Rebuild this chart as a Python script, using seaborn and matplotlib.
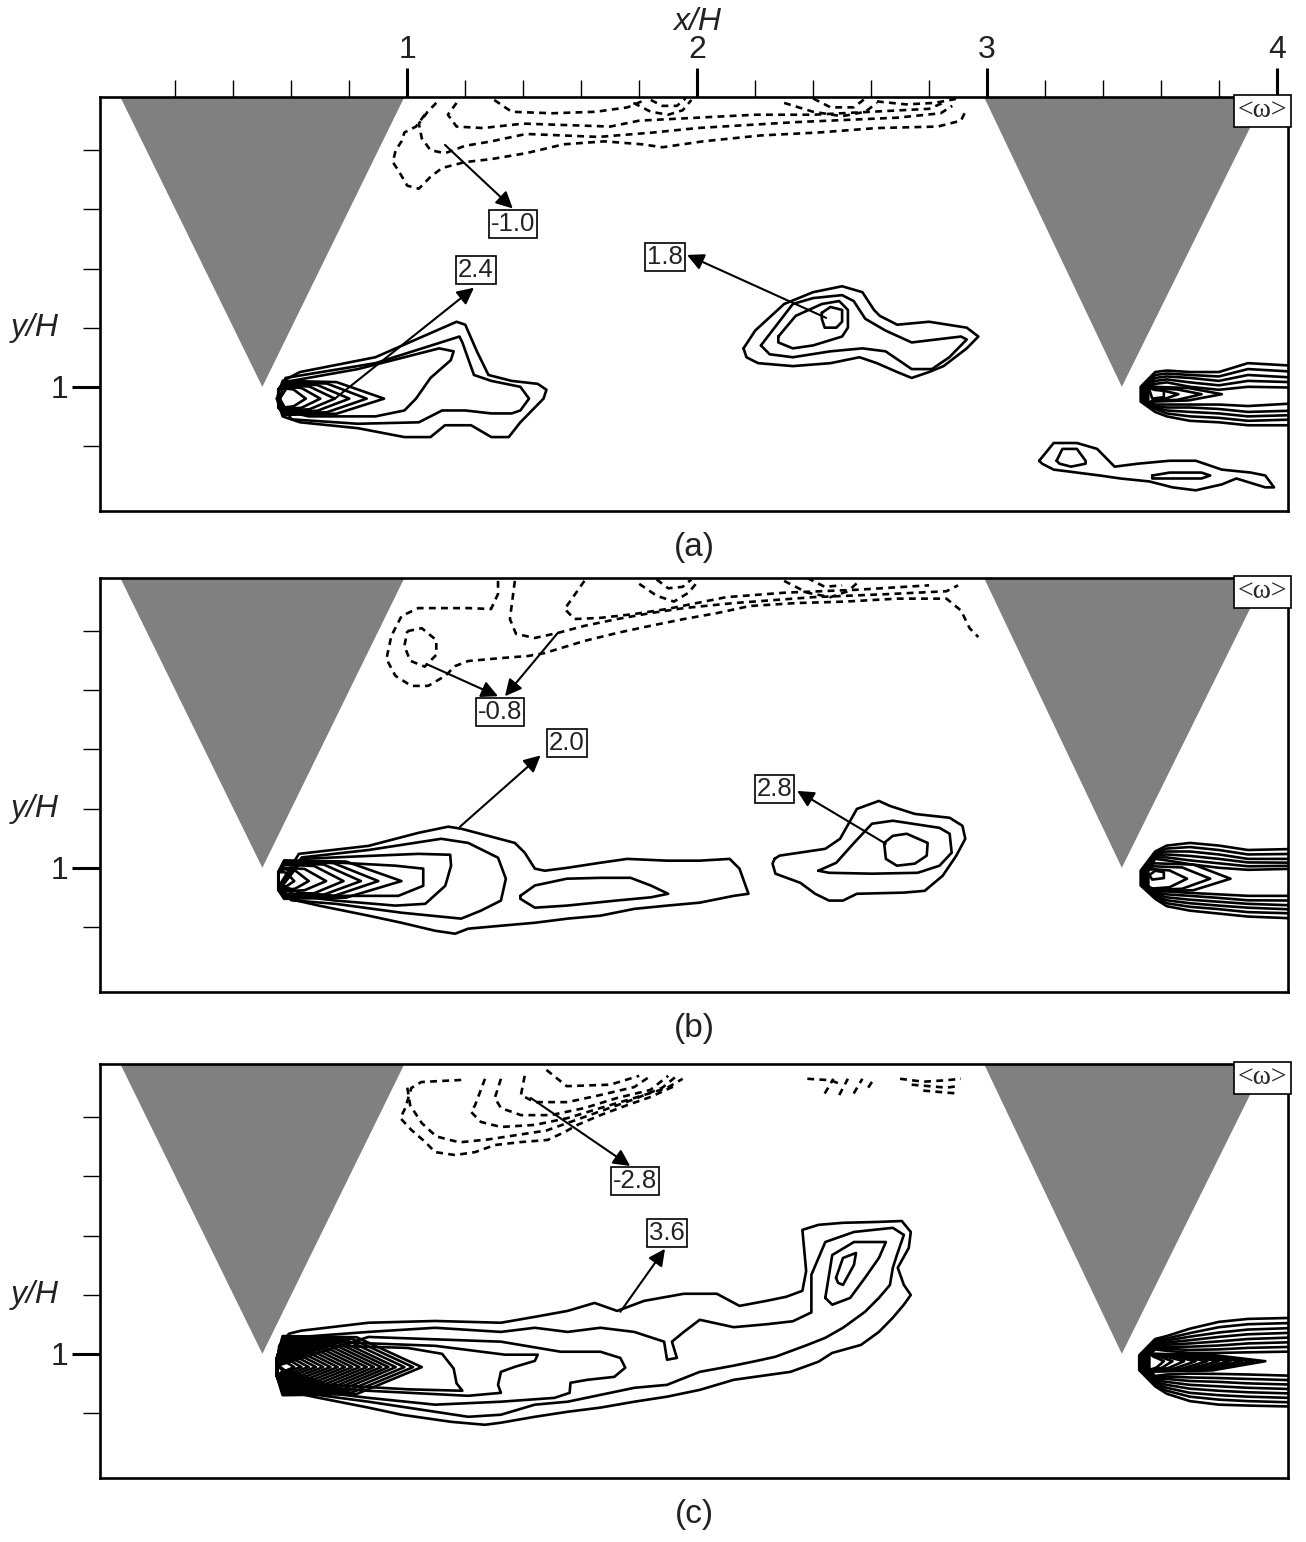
import matplotlib
matplotlib.use("Agg")
import matplotlib.pyplot as plt
import pandas as pd
import seaborn as sns

# axis layout (x/H, y/H)
x_major = [1, 2, 3, 4]
x_minor = [0.2, 0.4, 0.6, 0.8, 1.2, 1.4, 1.6, 1.8, 2.2, 2.4, 2.6, 2.8, 3.2, 3.4, 3.6, 3.8]
y_major = [1]
y_minor = [0.8, 1.2, 1.4, 1.6, 1.8]
x_range = (-0.06, 4.04)
y_range = (0.58, 1.98)

# triangular ribs hanging from the top wall
ribs = [[(0.0, 2.0), (1.0, 2.0), (0.5, 1.0)],
        [(2.98, 2.0), (3.97, 2.0), (3.465, 1.0)]]

# stations used for the wake lines that leave through the right edge
wake_x = [4.08, 3.90, 3.80, 3.70, 3.62, 3.58]

# ---------------- panel (a) ----------------
a_pos = [
    [(0.55, 0.96), (0.57, 1.02), (0.63, 1.05), (0.89, 1.10), (1.17, 1.22), (1.20, 1.21), (1.24, 1.12),
     (1.28, 1.04), (1.36, 1.02), (1.45, 1.01), (1.48, 0.99), (1.47, 0.96), (1.43, 0.92), (1.39, 0.88),
     (1.35, 0.83), (1.29, 0.83), (1.22, 0.87), (1.13, 0.87), (1.08, 0.83), (0.99, 0.83), (0.83, 0.86),
     (0.63, 0.88), (0.57, 0.90), (0.55, 0.96)],
    [(0.56, 0.96), (0.58, 1.03), (0.89, 1.08), (1.18, 1.17), (1.19, 1.15), (1.23, 1.04), (1.29, 1.02),
     (1.39, 1.00), (1.42, 0.96), (1.39, 0.92), (1.36, 0.91), (1.29, 0.91), (1.20, 0.92), (1.12, 0.92),
     (1.04, 0.88), (0.83, 0.875), (0.60, 0.89), (0.56, 0.96)],
    [(0.56, 0.96), (0.60, 1.02), (0.83, 1.06), (1.11, 1.13), (1.16, 1.12), (1.15, 1.09), (1.08, 1.03),
     (1.03, 0.96), (0.99, 0.92), (0.89, 0.90), (0.66, 0.90), (0.57, 0.92), (0.56, 0.96)],
    [(2.16, 1.13), (2.20, 1.19), (2.30, 1.28), (2.40, 1.32), (2.50, 1.34), (2.57, 1.32), (2.61, 1.26),
     (2.63, 1.24), (2.69, 1.21), (2.80, 1.22), (2.93, 1.20), (2.97, 1.17), (2.93, 1.13), (2.85, 1.07),
     (2.80, 1.05), (2.74, 1.03), (2.69, 1.05), (2.62, 1.08), (2.56, 1.10), (2.46, 1.08), (2.33, 1.07),
     (2.21, 1.08), (2.17, 1.10), (2.16, 1.13)],
    [(2.22, 1.14), (2.33, 1.28), (2.40, 1.30), (2.50, 1.31), (2.54, 1.29), (2.58, 1.23), (2.65, 1.19),
     (2.74, 1.15), (2.91, 1.17), (2.93, 1.16), (2.87, 1.10), (2.81, 1.06), (2.74, 1.06), (2.65, 1.12),
     (2.57, 1.13), (2.46, 1.12), (2.33, 1.10), (2.25, 1.11), (2.22, 1.14)],
    [(2.28, 1.17), (2.34, 1.24), (2.43, 1.28), (2.49, 1.29), (2.52, 1.26), (2.52, 1.20), (2.50, 1.17),
     (2.40, 1.14), (2.33, 1.13), (2.28, 1.15), (2.28, 1.17)],
    [(2.43, 1.25), (2.46, 1.27), (2.50, 1.26), (2.50, 1.22), (2.48, 1.20), (2.44, 1.20), (2.43, 1.23),
     (2.43, 1.25)],
    [(3.18, 0.75), (3.23, 0.81), (3.31, 0.81), (3.38, 0.79), (3.42, 0.75), (3.44, 0.73), (3.52, 0.74),
     (3.63, 0.75), (3.72, 0.75), (3.81, 0.72), (3.91, 0.71), (3.96, 0.70), (3.99, 0.66), (3.96, 0.66),
     (3.86, 0.69), (3.81, 0.67), (3.72, 0.65), (3.64, 0.66), (3.56, 0.68), (3.46, 0.69), (3.39, 0.70),
     (3.31, 0.71), (3.23, 0.72), (3.19, 0.74), (3.18, 0.75)],
    [(3.24, 0.75), (3.26, 0.79), (3.31, 0.79), (3.34, 0.75), (3.34, 0.74), (3.29, 0.73), (3.25, 0.74),
     (3.24, 0.75)],
    [(3.57, 0.70), (3.63, 0.71), (3.74, 0.71), (3.77, 0.70), (3.74, 0.69), (3.63, 0.69), (3.57, 0.69),
     (3.57, 0.70)],
    [(3.56, 0.99), (3.58, 1.00), (3.61, 0.99), (3.61, 0.965), (3.57, 0.96), (3.56, 0.99)],
]
a_fan = dict(cap=0.555, mid=0.96, apex=[0.92, 0.86, 0.80, 0.75, 0.70, 0.65],
             top=[1.02, 1.015, 1.01, 1.005, 1.0, 0.995], bot=[0.905, 0.91, 0.915, 0.92, 0.925, 0.93])
a_rfan = dict(cap=3.555, mid=0.975, apex=[3.81, 3.74, 3.66], top=[1.0, 0.995, 0.99], bot=[0.95, 0.952, 0.955])
a_edge_top = [[1.07, 1.08, 1.05, 1.05, 1.055, 1.05], [1.05, 1.06, 1.035, 1.04, 1.045, 1.04],
              [1.03, 1.04, 1.02, 1.03, 1.035, 1.03], [1.015, 1.02, 1.005, 1.015, 1.025, 1.02],
              [0.997, 1.0, 0.99, 1.0, 1.015, 1.01]]
a_edge_bot = [[0.87, 0.87, 0.88, 0.885, 0.90, 0.915], [0.89, 0.885, 0.895, 0.90, 0.91, 0.925],
              [0.905, 0.90, 0.91, 0.915, 0.92, 0.93], [0.92, 0.915, 0.925, 0.93, 0.93, 0.935],
              [0.945, 0.935, 0.94, 0.94, 0.94, 0.94]]
a_edge_cap = [3.53, 3.535, 3.54, 3.545, 3.55]
a_neg = [
    [(1.06, 1.92), (1.03, 1.88), (0.99, 1.86), (0.98, 1.83), (0.96, 1.80), (0.95, 1.76), (0.97, 1.73),
     (1.00, 1.68), (1.04, 1.67), (1.08, 1.71), (1.12, 1.74), (1.20, 1.76), (1.29, 1.77), (1.41, 1.79),
     (1.54, 1.82), (1.68, 1.83), (1.81, 1.82), (1.88, 1.81), (2.02, 1.83), (2.22, 1.85), (2.42, 1.86),
     (2.62, 1.875), (2.83, 1.88), (2.91, 1.90), (2.93, 1.94)],
    [(1.10, 1.96), (1.07, 1.93), (1.04, 1.89), (1.05, 1.84), (1.08, 1.80), (1.13, 1.79), (1.20, 1.815),
     (1.29, 1.83), (1.41, 1.855), (1.66, 1.845), (1.85, 1.86), (2.0, 1.875), (2.34, 1.895), (2.69, 1.91),
     (2.84, 1.925), (2.88, 1.95)],
    [(1.17, 1.96), (1.14, 1.92), (1.17, 1.88), (1.26, 1.875), (1.40, 1.89), (1.55, 1.885), (1.70, 1.88),
     (1.80, 1.90), (2.0, 1.91), (2.2, 1.92), (2.4, 1.92), (2.6, 1.93), (2.8, 1.94), (2.86, 1.965)],
    [(1.30, 1.97), (1.36, 1.93), (1.50, 1.925), (1.65, 1.93), (1.76, 1.945), (1.82, 1.97)],
    [(1.78, 1.96), (1.84, 1.93), (1.90, 1.92), (1.95, 1.935), (1.98, 1.97)],
    [(1.84, 1.97), (1.88, 1.95), (1.93, 1.95), (1.96, 1.975)],
    [(2.30, 1.96), (2.40, 1.93), (2.50, 1.915), (2.58, 1.93), (2.62, 1.96)],
    [(2.40, 1.975), (2.46, 1.945), (2.54, 1.945), (2.58, 1.975)],
    [(2.62, 1.965), (2.72, 1.955), (2.82, 1.96), (2.90, 1.975)],
]
a_tags = ["-1.0", "2.4", "1.8"]
a_tag_xy = [(1.364, 1.551), (1.237, 1.395), (1.889, 1.44)]
a_arrow_from = [(1.13, 1.818), (0.75, 0.96), (2.445, 1.233)]
a_arrow_to = [(1.364, 1.603), (1.23, 1.335), (1.965, 1.446)]

# ---------------- panel (b) ----------------
b_pos = [
    [(0.558, 0.939), (0.626, 1.047), (0.866, 1.074), (1.038, 1.118), (1.141, 1.139), (1.186, 1.132),
     (1.371, 1.084), (1.405, 1.051), (1.440, 0.997), (1.474, 0.990), (1.553, 1.0), (1.666, 1.017),
     (1.759, 1.030), (1.896, 1.024), (2.009, 1.024), (2.112, 1.030), (2.146, 0.997), (2.177, 0.912),
     (2.126, 0.905), (2.009, 0.882), (1.896, 0.872), (1.783, 0.861), (1.666, 0.838), (1.553, 0.828),
     (1.440, 0.814), (1.323, 0.804), (1.210, 0.794), (1.165, 0.777), (1.096, 0.787), (0.980, 0.814),
     (0.866, 0.838), (0.695, 0.872), (0.592, 0.895), (0.558, 0.939)],
    [(1.39, 0.905), (1.44, 0.94), (1.55, 0.963), (1.67, 0.966), (1.77, 0.966), (1.84, 0.94), (1.90, 0.912),
     (1.84, 0.90), (1.72, 0.889), (1.55, 0.872), (1.44, 0.865), (1.39, 0.895), (1.39, 0.905)],
    [(0.56, 0.94), (0.636, 1.035), (0.866, 1.06), (1.117, 1.098), (1.210, 1.084), (1.313, 1.034),
     (1.340, 0.963), (1.323, 0.889), (1.254, 0.855), (1.186, 0.828), (0.980, 0.848), (0.753, 0.878),
     (0.60, 0.89), (0.56, 0.94)],
    [(0.565, 0.94), (0.636, 1.03), (0.866, 1.04), (1.038, 1.047), (1.148, 1.044), (1.151, 1.007),
     (1.131, 0.939), (1.062, 0.878), (0.959, 0.872), (0.753, 0.889), (0.616, 0.905), (0.565, 0.94)],
    [(0.57, 0.94), (0.636, 1.024), (0.959, 1.007), (1.055, 0.997), (1.055, 0.939), (0.969, 0.905),
     (0.753, 0.905), (0.626, 0.916), (0.57, 0.94)],
    [(2.267, 1.030), (2.284, 1.041), (2.442, 1.064), (2.493, 1.098), (2.551, 1.199), (2.627, 1.226),
     (2.665, 1.209), (2.751, 1.182), (2.871, 1.169), (2.915, 1.142), (2.925, 1.098), (2.894, 1.041),
     (2.847, 0.973), (2.785, 0.922), (2.713, 0.916), (2.551, 0.912), (2.503, 0.889), (2.455, 0.889),
     (2.407, 0.912), (2.356, 0.949), (2.270, 0.980), (2.260, 1.014), (2.267, 1.030)],
    [(2.418, 0.990), (2.480, 1.017), (2.541, 1.084), (2.603, 1.149), (2.675, 1.159), (2.836, 1.135),
     (2.871, 1.115), (2.878, 1.051), (2.836, 1.007), (2.761, 0.983), (2.603, 0.980), (2.455, 0.983),
     (2.418, 0.990)],
    [(2.645, 1.084), (2.675, 1.108), (2.723, 1.115), (2.795, 1.084), (2.792, 1.041), (2.751, 1.014),
     (2.689, 1.007), (2.651, 1.030), (2.645, 1.084)],
    [(3.56, 0.975), (3.58, 0.99), (3.61, 0.985), (3.61, 0.965), (3.57, 0.96), (3.56, 0.975)],
]
b_fan = dict(cap=0.555, mid=0.955, apex=[0.98, 0.90, 0.84, 0.78, 0.72, 0.66, 0.61],
             top=[1.025, 1.02, 1.015, 1.01, 1.0, 0.995, 0.985],
             bot=[0.895, 0.90, 0.905, 0.91, 0.92, 0.925, 0.935])
b_rfan = dict(cap=3.555, mid=0.963, apex=[3.84, 3.77, 3.69], top=[1.015, 1.005, 0.995], bot=[0.92, 0.925, 0.93])
b_edge_top = [[1.064, 1.06, 1.075, 1.084, 1.075, 1.055], [1.047, 1.045, 1.06, 1.07, 1.065, 1.05],
              [1.03, 1.03, 1.045, 1.055, 1.055, 1.045], [1.017, 1.018, 1.03, 1.04, 1.045, 1.04],
              [1.007, 1.005, 1.015, 1.025, 1.035, 1.035], [0.997, 0.993, 1.0, 1.012, 1.025, 1.03]]
b_edge_bot = [[0.828, 0.835, 0.845, 0.855, 0.87, 0.895], [0.845, 0.85, 0.86, 0.868, 0.88, 0.90],
              [0.858, 0.865, 0.872, 0.88, 0.89, 0.905], [0.872, 0.878, 0.885, 0.892, 0.90, 0.91],
              [0.889, 0.89, 0.898, 0.905, 0.91, 0.915], [0.905, 0.905, 0.91, 0.915, 0.92, 0.92]]
b_edge_cap = [3.53, 3.535, 3.54, 3.545, 3.55, 3.555]
b_neg = [
    [(1.00, 1.80), (1.05, 1.81), (1.10, 1.77), (1.10, 1.72), (1.06, 1.68), (1.01, 1.70), (0.99, 1.75),
     (1.00, 1.80)],
    [(1.313, 1.97), (1.313, 1.926), (1.289, 1.875), (1.210, 1.878), (1.038, 1.878), (0.980, 1.851),
     (0.945, 1.784), (0.928, 1.706), (0.959, 1.649), (1.014, 1.615), (1.072, 1.615), (1.131, 1.649),
     (1.165, 1.682), (1.210, 1.699), (1.323, 1.709), (1.416, 1.716), (1.474, 1.726), (1.611, 1.767),
     (1.724, 1.794), (1.838, 1.818), (1.954, 1.841), (2.068, 1.861), (2.181, 1.885), (2.34, 1.895),
     (2.51, 1.90), (2.69, 1.91), (2.86, 1.91), (2.91, 1.87), (2.94, 1.81), (2.97, 1.78)],
    [(1.371, 1.97), (1.354, 1.841), (1.375, 1.791), (1.440, 1.777), (1.519, 1.794), (1.611, 1.818),
     (1.724, 1.841), (1.838, 1.861), (1.954, 1.878), (2.126, 1.895), (2.40, 1.915), (2.65, 1.925),
     (2.86, 1.935), (2.90, 1.955)],
    [(1.611, 1.97), (1.543, 1.875), (1.577, 1.841), (1.666, 1.845), (1.783, 1.858), (1.896, 1.875),
     (2.10, 1.915), (2.30, 1.93), (2.55, 1.94), (2.80, 1.955)],
    [(1.80, 1.96), (1.86, 1.92), (1.92, 1.90), (1.97, 1.93), (2.0, 1.965)],
    [(1.86, 1.975), (1.90, 1.945), (1.95, 1.95), (1.98, 1.975)],
    [(2.30, 1.97), (2.38, 1.93), (2.46, 1.915), (2.52, 1.935), (2.56, 1.97)],
    [(2.38, 1.98), (2.44, 1.95), (2.50, 1.955)],
]
b_tags = ["-0.8", "2.0", "2.8"]
b_tag_xy = [(1.320, 1.527), (1.550, 1.422), (2.267, 1.267)]
b_arrow_from = [(1.066, 1.689), (1.519, 1.794), (1.182, 1.139), (2.651, 1.081)]
b_arrow_to = [(1.313, 1.58), (1.337, 1.58), (1.46, 1.38), (2.345, 1.26)]

# ---------------- panel (c) ----------------
c_pos = [
    [(0.551, 0.96), (0.558, 1.027), (0.592, 1.068), (0.633, 1.078), (0.866, 1.105), (1.096, 1.111),
     (1.323, 1.105), (1.440, 1.125), (1.553, 1.145), (1.646, 1.172), (1.724, 1.145), (1.817, 1.179),
     (1.954, 1.203), (2.068, 1.203), (2.146, 1.162), (2.239, 1.179), (2.308, 1.193), (2.363, 1.213),
     (2.376, 1.280), (2.363, 1.419), (2.418, 1.436), (2.503, 1.443), (2.627, 1.446), (2.706, 1.449),
     (2.737, 1.412), (2.730, 1.358), (2.692, 1.291), (2.713, 1.233), (2.737, 1.199), (2.713, 1.166),
     (2.675, 1.122), (2.627, 1.074), (2.565, 1.030), (2.466, 1.003), (2.418, 0.973), (2.322, 0.939),
     (2.198, 0.922), (2.126, 0.912), (2.009, 0.878), (1.896, 0.855), (1.783, 0.838), (1.666, 0.818),
     (1.553, 0.804), (1.440, 0.787), (1.323, 0.767), (1.268, 0.760), (1.151, 0.770), (0.980, 0.794),
     (0.866, 0.818), (0.695, 0.851), (0.592, 0.872), (0.551, 0.919), (0.551, 0.96)],
    [(0.552, 0.96), (0.633, 1.057), (0.866, 1.074), (1.096, 1.088), (1.323, 1.074), (1.440, 1.088),
     (1.553, 1.074), (1.666, 1.088), (1.783, 1.074), (1.886, 1.041), (1.896, 0.980), (1.930, 0.986),
     (1.913, 1.041), (1.954, 1.074), (2.009, 1.115), (2.126, 1.09), (2.24, 1.10), (2.33, 1.11),
     (2.394, 1.14), (2.394, 1.267), (2.442, 1.378), (2.541, 1.412), (2.675, 1.426), (2.713, 1.402),
     (2.689, 1.334), (2.675, 1.291), (2.665, 1.233), (2.627, 1.189), (2.579, 1.142), (2.503, 1.088),
     (2.442, 1.054), (2.380, 1.030), (2.27, 0.99), (2.20, 0.975), (2.126, 0.96), (2.009, 0.939),
     (1.896, 0.895), (1.783, 0.885), (1.666, 0.861), (1.553, 0.838), (1.440, 0.828), (1.323, 0.794),
     (1.210, 0.787), (1.096, 0.804), (0.866, 0.838), (0.636, 0.868), (0.552, 0.93), (0.552, 0.96)],
    [(0.553, 0.96), (0.866, 1.057), (1.323, 1.041), (1.529, 1.007), (1.666, 1.007), (1.735, 0.986),
     (1.752, 0.953), (1.714, 0.922), (1.621, 0.912), (1.563, 0.902), (1.560, 0.868), (1.508, 0.851),
     (1.323, 0.838), (1.096, 0.828), (0.866, 0.851), (0.636, 0.878), (0.553, 0.96)],
    [(0.554, 0.96), (0.636, 1.044), (1.096, 1.027), (1.337, 0.997), (1.450, 0.997), (1.440, 0.976),
     (1.371, 0.956), (1.323, 0.939), (1.313, 0.895), (1.323, 0.868), (1.210, 0.858), (0.866, 0.875),
     (0.636, 0.892), (0.554, 0.96)],
    [(0.555, 0.96), (0.64, 1.03), (1.0, 1.02), (1.12, 1.0), (1.16, 0.95), (1.17, 0.90), (1.19, 0.875),
     (1.0, 0.88), (0.64, 0.90), (0.555, 0.96)],
    [(2.442, 1.189), (2.466, 1.334), (2.541, 1.378), (2.651, 1.378), (2.627, 1.324), (2.579, 1.257),
     (2.528, 1.189), (2.466, 1.166), (2.442, 1.189)],
    [(2.479, 1.257), (2.503, 1.324), (2.548, 1.341), (2.541, 1.301), (2.503, 1.233), (2.486, 1.240),
     (2.479, 1.257)],
]
c_fan = dict(cap=0.55, mid=0.955,
             apex=[1.05, 1.02, 0.99, 0.96, 0.935, 0.91, 0.885, 0.86, 0.835, 0.81, 0.785, 0.76, 0.735,
                   0.71, 0.685, 0.66, 0.635, 0.61],
             top=[1.06, 1.055, 1.05, 1.045, 1.04, 1.035, 1.03, 1.025, 1.02, 1.015, 1.01, 1.005, 1.0,
                  0.995, 0.99, 0.985, 0.98, 0.975],
             bot=[0.86, 0.865, 0.87, 0.875, 0.88, 0.885, 0.89, 0.895, 0.90, 0.905, 0.91, 0.915, 0.92,
                  0.925, 0.93, 0.935, 0.94, 0.94])
c_rfan = dict(cap=3.555, mid=0.975, apex=[3.96, 3.92, 3.88, 3.84, 3.80, 3.76, 3.72, 3.68, 3.64, 3.61],
              top=[1.0, 0.999, 0.998, 0.997, 0.996, 0.995, 0.994, 0.993, 0.992, 0.99],
              bot=[0.94, 0.941, 0.942, 0.943, 0.944, 0.945, 0.946, 0.947, 0.948, 0.95])
c_edge_top = [[1.122, 1.118, 1.108, 1.085, 1.06, 1.05], [1.105, 1.10, 1.09, 1.07, 1.052, 1.045],
              [1.088, 1.082, 1.072, 1.058, 1.045, 1.04], [1.072, 1.066, 1.057, 1.046, 1.038, 1.035],
              [1.056, 1.05, 1.042, 1.035, 1.031, 1.03], [1.04, 1.035, 1.028, 1.024, 1.024, 1.025],
              [1.024, 1.02, 1.015, 1.013, 1.017, 1.02], [1.008, 1.005, 1.003, 1.003, 1.01, 1.015]]
c_edge_bot = [[0.821, 0.825, 0.828, 0.84, 0.865, 0.89], [0.835, 0.84, 0.845, 0.855, 0.875, 0.895],
              [0.85, 0.855, 0.86, 0.868, 0.885, 0.90], [0.865, 0.87, 0.875, 0.882, 0.895, 0.905],
              [0.88, 0.885, 0.89, 0.895, 0.905, 0.91], [0.895, 0.90, 0.905, 0.908, 0.915, 0.915],
              [0.91, 0.915, 0.918, 0.92, 0.923, 0.92], [0.925, 0.93, 0.932, 0.933, 0.93, 0.925]]
c_edge_cap = [3.525, 3.53, 3.535, 3.54, 3.545, 3.55, 3.555, 3.56]
c_neg = [
    [(1.186, 1.926), (1.048, 1.919), (1.014, 1.899), (0.993, 1.831), (0.976, 1.797), (1.014, 1.757),
     (1.062, 1.716), (1.096, 1.682), (1.165, 1.672), (1.234, 1.682), (1.302, 1.706), (1.392, 1.716),
     (1.484, 1.723), (1.543, 1.750), (1.587, 1.774), (1.666, 1.807), (1.759, 1.841), (1.838, 1.868),
     (1.930, 1.909)],
    [(1.00, 1.90), (1.01, 1.84), (1.05, 1.78), (1.10, 1.735), (1.18, 1.715), (1.28, 1.725), (1.38, 1.74),
     (1.48, 1.755), (1.58, 1.79), (1.68, 1.825), (1.78, 1.86), (1.88, 1.90), (1.93, 1.94)],
    [(1.268, 1.93), (1.234, 1.841), (1.220, 1.818), (1.254, 1.784), (1.323, 1.767), (1.440, 1.774),
     (1.553, 1.797), (1.666, 1.831), (1.783, 1.865), (1.896, 1.899), (1.95, 1.93)],
    [(1.323, 1.93), (1.302, 1.865), (1.323, 1.831), (1.392, 1.807), (1.495, 1.807), (1.611, 1.831),
     (1.724, 1.865), (1.838, 1.892), (1.90, 1.94)],
    [(1.405, 1.94), (1.392, 1.875), (1.440, 1.851), (1.553, 1.851), (1.666, 1.875), (1.783, 1.902),
     (1.84, 1.94)],
    [(1.48, 1.96), (1.55, 1.905), (1.70, 1.91), (1.80, 1.94)],
    [(2.38, 1.93), (2.46, 1.925), (2.50, 1.91)],
    [(2.44, 1.88), (2.47, 1.93)], [(2.49, 1.875), (2.52, 1.93)], [(2.54, 1.88), (2.57, 1.93)],
    [(2.59, 1.90), (2.61, 1.93)],
    [(2.70, 1.93), (2.78, 1.92), (2.86, 1.925), (2.91, 1.93)],
    [(2.74, 1.91), (2.80, 1.905), (2.86, 1.90), (2.90, 1.905)],
    [(2.78, 1.89), (2.84, 1.885), (2.90, 1.88)],
]
c_tags = ["-2.8", "3.6"]
c_tag_xy = [(1.786, 1.584), (1.896, 1.409)]
c_arrow_from = [(1.426, 1.865), (1.735, 1.142)]
c_arrow_to = [(1.769, 1.635), (1.889, 1.355)]


def chevron(cap, apex, mid, top, bot):
    knee = cap + 0.55 * (apex - cap)
    return [(cap, mid + 0.03), (cap + 0.02, top), (knee, top - 0.004), (apex, mid),
            (knee, bot + 0.004), (cap + 0.02, bot), (cap, mid - 0.03), (cap, mid + 0.03)]


def edge_loop(tops, bots, cap, mid):
    upper = list(zip(wake_x, tops))
    lower = list(zip(wake_x, bots))[::-1]
    return upper + [(cap, mid + 0.025), (cap, mid - 0.025)] + lower


def fan_lines(fan):
    return [chevron(fan["cap"], a, fan["mid"], t, b)
            for a, t, b in zip(fan["apex"], fan["top"], fan["bot"])]


def draw_lines(ax, lines, dashed=False):
    rows = [(i, x, y) for i, line in enumerate(lines) for x, y in line]
    df = pd.DataFrame(rows, columns=["line", "x", "y"])
    if dashed:
        kws = dict(linewidth=1.9, linestyle=(0, (2.6, 2.0)))
    else:
        kws = dict(linewidth=1.9)
    sns.lineplot(data=df, x="x", y="y", units="line", estimator=None, sort=False,
                 color="black", legend=False, ax=ax, zorder=3, **kws)


def panel(ax, pos, fan, rfan, etop, ebot, ecap, emid, neg, tags, tag_xy, a_from, a_to, letter, top_axis):
    for rib in ribs:
        ax.fill([p[0] for p in rib], [p[1] for p in rib], color="#808080", lw=0, zorder=1)
    lines = list(pos) + fan_lines(fan) + fan_lines(rfan)
    lines += [edge_loop(t, b, c, emid) for t, b, c in zip(etop, ebot, ecap)]
    draw_lines(ax, lines)
    draw_lines(ax, neg, dashed=True)
    for (x0, y0), (x1, y1) in zip(a_from, a_to):
        ax.annotate("", xy=(x1, y1), xytext=(x0, y0),
                    arrowprops=dict(arrowstyle="-|>", lw=1.5, color="black", mutation_scale=25,
                                    shrinkA=0, shrinkB=0), zorder=4)
    for t, (x, y) in zip(tags, tag_xy):
        ax.text(x, y, t, ha="center", va="center", fontsize=18.5, color="#222222", zorder=5,
                bbox=dict(boxstyle="square,pad=0.08", fc="white", ec="black", lw=1.2))
    ax.text(0.999, 0.997, "<ω>", transform=ax.transAxes, ha="right", va="top", fontsize=20,
            family=["Liberation Serif", "DejaVu Serif"], zorder=6,
            bbox=dict(boxstyle="square,pad=0.12", fc="white", ec="black", lw=1.2))

    ax.set_xlim(*x_range)
    ax.set_ylim(*y_range)
    ax.set_xlabel("")
    ax.set_ylabel("")
    for s in ax.spines.values():
        s.set_color("black")
        s.set_linewidth(1.9)
    ax.set_yticks(y_major, labels=["1"])
    ax.set_yticks(y_minor, minor=True)
    ax.tick_params(axis="y", which="major", left=True, right=False, length=20, width=2.2,
                   direction="out", labelsize=23, pad=3, color="black", labelcolor="#222222")
    ax.tick_params(axis="y", which="minor", left=True, right=False, length=12, width=1.0,
                   direction="out", color="black")
    if top_axis:
        ax.set_xticks(x_major, labels=[str(v) for v in x_major])
        ax.set_xticks(x_minor, minor=True)
        ax.tick_params(axis="x", which="both", bottom=False, top=True, labelbottom=False,
                       labeltop=True, direction="out", color="black")
        ax.tick_params(axis="x", which="major", length=21, width=2.2, labelsize=23, pad=2,
                       labelcolor="#222222")
        ax.tick_params(axis="x", which="minor", length=12, width=1.0)
        ax.text(2.0, 1.18, "x/H", transform=ax.get_xaxis_transform(), ha="center", va="center",
                fontsize=23, style="italic", color="#222222")
    else:
        ax.set_xticks([])
        ax.tick_params(axis="x", which="both", bottom=False, top=False)
    ax.text(-0.055, 1.2, "y/H", transform=ax.get_yaxis_transform(), ha="center", va="center",
            fontsize=23, style="italic", color="#222222")
    ax.text(0.5, -0.088, letter, transform=ax.transAxes, ha="center", va="center", fontsize=24,
            color="#222222")


sns.set_theme(style="white")
plt.rcParams["font.family"] = ["Liberation Sans", "DejaVu Sans"]

fig = plt.figure(figsize=(13.06, 15.42), dpi=100)
ax_a = fig.add_axes([0.0766, 0.6686, 0.910, 0.2685])
ax_b = fig.add_axes([0.0766, 0.3567, 0.910, 0.2685])
ax_c = fig.add_axes([0.0766, 0.0415, 0.910, 0.2685])

panel(ax_a, a_pos, a_fan, a_rfan, a_edge_top, a_edge_bot, a_edge_cap, 0.975, a_neg,
      a_tags, a_tag_xy, a_arrow_from, a_arrow_to, "(a)", True)
panel(ax_b, b_pos, b_fan, b_rfan, b_edge_top, b_edge_bot, b_edge_cap, 0.965, b_neg,
      b_tags, b_tag_xy, b_arrow_from, b_arrow_to, "(b)", False)
panel(ax_c, c_pos, c_fan, c_rfan, c_edge_top, c_edge_bot, c_edge_cap, 0.97, c_neg,
      c_tags, c_tag_xy, c_arrow_from, c_arrow_to, "(c)", False)

fig.savefig("out.png", dpi=100)
